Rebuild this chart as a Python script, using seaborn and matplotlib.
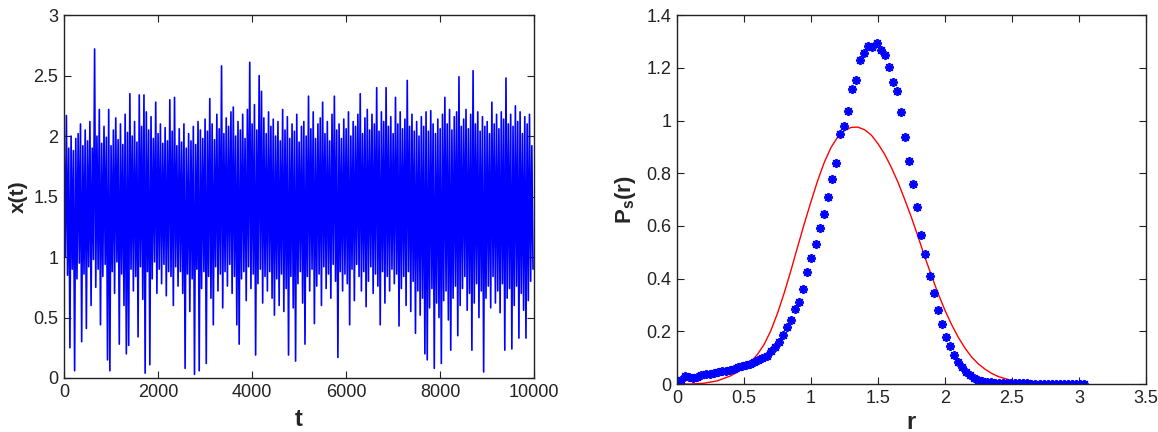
import numpy as np
import pandas as pd
import seaborn as sns
import matplotlib
matplotlib.use('Agg')
import matplotlib.pyplot as plt
from matplotlib.ticker import FuncFormatter

sns.set_style('ticks')
plt.rcParams['font.family'] = ['Liberation Sans', 'DejaVu Sans']
plt.rcParams['mathtext.fontset'] = 'custom'
plt.rcParams['mathtext.rm'] = 'Liberation Sans'
plt.rcParams['mathtext.bf'] = 'Liberation Sans:bold'
plt.rcParams['mathtext.it'] = 'Liberation Sans:italic'

# ---- left panel: x(t), upper / lower excursions per 50-step window ----
x_hi = [1.95, 2.17, 1.90, 2.00, 1.88, 1.98, 2.02, 2.10, 1.92, 2.05,
        1.96, 2.12, 1.90, 2.72, 2.00, 2.22, 1.94, 2.08, 1.99, 2.22,
        1.92, 2.05, 2.15, 1.97, 2.10, 1.93, 2.18, 2.03, 2.35, 2.00,
        2.12, 1.95, 2.34, 2.08, 2.34, 2.20, 2.05, 2.16, 1.98, 2.28,
        2.02, 2.10, 1.94, 2.07, 1.96, 2.30, 2.04, 2.32, 1.92, 2.06,
        1.95, 2.10, 1.90, 2.02, 1.96, 2.08, 1.93, 2.12, 2.05, 1.98,
        2.14, 2.04, 2.31, 2.10, 1.97, 2.18, 2.06, 2.58, 2.02, 2.15,
        2.08, 2.20, 2.24, 2.00, 2.12, 2.05, 2.18, 1.98, 2.22, 2.61,
        2.10, 2.26, 2.05, 2.50, 2.37, 2.15, 2.02, 2.20, 2.08, 2.14,
        2.00, 2.12, 1.96, 2.22, 2.05, 2.16, 1.98, 2.10, 2.04, 2.18,
        1.95, 2.08, 2.12, 2.00, 2.33, 2.06, 2.20, 1.98, 2.10, 2.15,
        2.28, 2.02, 2.12, 1.96, 2.18, 2.33, 2.05, 2.10, 1.98, 2.14,
        2.06, 2.20, 2.00, 2.12, 2.08, 2.18, 2.35, 2.02, 2.15, 2.22,
        2.05, 2.18, 2.10, 2.40, 2.04, 2.20, 2.12, 2.40, 2.08, 2.16,
        2.02, 2.32, 2.10, 2.20, 2.06, 2.14, 2.46, 2.08, 2.18, 2.04,
        2.12, 2.00, 2.16, 2.08, 2.20, 2.04, 2.21, 2.10, 2.02, 2.14,
        2.06, 2.18, 2.32, 2.10, 2.22, 2.05, 2.16, 2.20, 2.49, 2.08,
        2.14, 2.22, 2.06, 2.18, 2.54, 2.10, 2.20, 2.04, 2.16, 2.08,
        2.12, 2.02, 2.28, 2.10, 2.18, 2.06, 2.20, 2.14, 2.48, 2.10,
        2.18, 2.08, 2.25, 2.12, 2.20, 2.02, 2.16, 2.10, 2.18, 1.92]

x_lo = [1.00, 0.85, 0.25, 0.90, 0.06, 0.82, 0.95, 0.30, 0.86, 0.41,
        0.92, 0.60, 0.98, 0.75, 0.90, 0.44, 0.84, 0.94, 0.15, 0.06,
        0.88, 0.70, 0.96, 0.28, 0.86, 0.60, 0.20, 0.27, 0.90, 0.72,
        0.84, 0.34, 0.92, 0.65, 0.04, 0.88, 0.11, 0.82, 0.96, 0.70,
        0.90, 0.78, 0.94, 0.68, 0.88, 0.84, 0.60, 0.92, 0.76, 0.88,
        0.70, 0.08, 0.86, 0.55, 0.82, 0.03, 0.90, 0.06, 0.74, 0.88,
        0.12, 0.84, 0.66, 0.44, 0.92, 0.72, 0.86, 0.58, 0.88, 0.76,
        0.94, 0.70, 0.84, 0.44, 0.28, 0.82, 0.88, 0.64, 0.92, 0.74,
        0.86, 0.19, 0.78, 0.90, 0.62, 0.84, 0.72, 0.88, 0.66, 0.52,
        0.82, 0.60, 0.86, 0.55, 0.74, 0.19, 0.84, 0.58, 0.14, 0.78,
        0.88, 0.62, 0.28, 0.84, 0.72, 0.90, 0.45, 0.76, 0.86, 0.60,
        0.92, 0.74, 0.86, 0.66, 0.94, 0.80, 0.17, 0.88, 0.72, 0.86,
        0.78, 0.44, 0.90, 0.64, 0.94, 0.84, 0.72, 0.88, 0.59, 0.80,
        0.92, 0.70, 0.86, 0.76, 0.44, 0.88, 0.62, 0.84, 0.72, 0.90,
        0.78, 0.86, 0.43, 0.74, 0.84, 0.60, 0.88, 0.55, 0.80, 0.37,
        0.72, 0.52, 0.66, 0.20, 0.15, 0.58, 0.74, 0.08, 0.62, 0.50,
        0.12, 0.64, 0.72, 0.48, 0.23, 0.66, 0.76, 0.35, 0.60, 0.74,
        0.84, 0.56, 0.70, 0.23, 0.62, 0.78, 0.50, 0.72, 0.05, 0.66,
        0.76, 0.58, 0.84, 0.62, 0.72, 0.54, 0.78, 0.23, 0.66, 0.74,
        0.24, 0.60, 0.76, 0.33, 0.70, 0.56, 0.33, 0.64, 0.80, 0.90]

t_hi = np.arange(0, 10000, 50)
t_lo = t_hi + 25

# ---- right panel: histogram points and analytic density ----
r_pts = [0.000, 0.030, 0.061, 0.091, 0.122, 0.152, 0.182, 0.213, 0.243, 0.274,
         0.304, 0.334, 0.365, 0.395, 0.426, 0.456, 0.486, 0.517, 0.547, 0.578,
         0.608, 0.638, 0.669, 0.699, 0.730, 0.760, 0.790, 0.821, 0.851, 0.882,
         0.912, 0.942, 0.973, 1.003, 1.034, 1.064, 1.094, 1.125, 1.155, 1.186,
         1.216, 1.246, 1.277, 1.307, 1.338, 1.368, 1.398, 1.429, 1.459, 1.490,
         1.520, 1.550, 1.581, 1.611, 1.642, 1.672, 1.702, 1.733, 1.763, 1.794,
         1.824, 1.854, 1.885, 1.915, 1.946, 1.976, 2.006, 2.037, 2.067, 2.098,
         2.128, 2.158, 2.189, 2.219, 2.250, 2.280, 2.310, 2.341, 2.371, 2.402,
         2.432, 2.462, 2.493, 2.523, 2.554, 2.584, 2.614, 2.645, 2.675, 2.706,
         2.736, 2.766, 2.797, 2.827, 2.858, 2.888, 2.918, 2.949, 2.979, 3.010,
         3.040]
p_pts = [0.000, 0.015, 0.030, 0.028, 0.022, 0.027, 0.033, 0.038, 0.040, 0.043,
         0.046, 0.048, 0.050, 0.054, 0.058, 0.063, 0.068, 0.072, 0.077, 0.082,
         0.090, 0.097, 0.108, 0.124, 0.140, 0.160, 0.185, 0.215, 0.243, 0.284,
         0.310, 0.362, 0.426, 0.479, 0.533, 0.593, 0.647, 0.710, 0.780, 0.837,
         0.947, 0.981, 1.038, 1.120, 1.155, 1.230, 1.258, 1.284, 1.280, 1.295,
         1.267, 1.248, 1.204, 1.145, 1.111, 1.032, 0.937, 0.847, 0.759, 0.671,
         0.566, 0.494, 0.410, 0.344, 0.281, 0.227, 0.178, 0.143, 0.111, 0.085,
         0.064, 0.046, 0.033, 0.023, 0.016, 0.011, 0.008, 0.006, 0.005, 0.005,
         0.004, 0.004, 0.004, 0.003, 0.003, 0.003, 0.003, 0.002, 0.002, 0.002,
         0.002, 0.002, 0.002, 0.002, 0.001, 0.001, 0.001, 0.001, 0.001, 0.001,
         0.001]

r_fit = [0.00, 0.10, 0.20, 0.30, 0.40, 0.45, 0.50, 0.55, 0.60, 0.65,
         0.70, 0.75, 0.80, 0.85, 0.90, 0.95, 1.00, 1.05, 1.10, 1.15,
         1.20, 1.25, 1.30, 1.35, 1.40, 1.45, 1.50, 1.55, 1.60, 1.65,
         1.70, 1.75, 1.80, 1.85, 1.90, 1.95, 2.00, 2.05, 2.10, 2.15,
         2.20, 2.25, 2.30, 2.35, 2.40, 2.50, 2.60, 2.70, 2.80, 3.00]
p_fit = [0.000, 0.000, 0.003, 0.012, 0.031, 0.045, 0.063, 0.084, 0.112, 0.150,
         0.202, 0.268, 0.345, 0.430, 0.520, 0.608, 0.692, 0.772, 0.842, 0.898,
         0.938, 0.962, 0.974, 0.975, 0.965, 0.945, 0.912, 0.872, 0.822, 0.765,
         0.700, 0.632, 0.558, 0.482, 0.410, 0.342, 0.280, 0.225, 0.177, 0.136,
         0.102, 0.076, 0.056, 0.040, 0.028, 0.013, 0.006, 0.003, 0.001, 0.000]

t_all = np.empty(2 * len(t_hi))
x_all = np.empty(2 * len(t_hi))
t_all[0::2], t_all[1::2] = t_hi, t_lo
x_all[0::2], x_all[1::2] = x_hi, x_lo
series = pd.DataFrame({'t': t_all, 'x': x_all})

fig = plt.figure(figsize=(11.58, 4.32), dpi=100)
ax1 = fig.add_axes([0.0553, 0.125, 0.406, 0.840])
ax2 = fig.add_axes([0.5846, 0.111, 0.405, 0.854])

sns.lineplot(data=series, x='t', y='x', ax=ax1, color='#0000ff', lw=1.2,
             estimator=None, sort=False)
ax1.set_xlim(0, 10000)
ax1.set_ylim(0, 3)
ax1.set_xticks(range(0, 10001, 2000))
ax1.set_yticks([0, 0.5, 1, 1.5, 2, 2.5, 3])
ax1.set_xlabel('t', fontsize=17, fontweight='bold', labelpad=5)
ax1.set_ylabel('x(t)', fontsize=15, fontweight='bold', labelpad=4)

sns.lineplot(x=r_fit, y=p_fit, ax=ax2, color='#ff0000', lw=1.0, estimator=None)
sns.lineplot(x=r_pts, y=p_pts, ax=ax2, color='#0000ff', linestyle='',
             marker=(8, 2, 0), markersize=6.5, mec='#0000ff', mew=1.3,
             estimator=None)
ax2.set_xlim(0, 3.5)
ax2.set_ylim(0, 1.4)
ax2.set_xticks([0, 0.5, 1, 1.5, 2, 2.5, 3, 3.5])
ax2.set_yticks([0, 0.2, 0.4, 0.6, 0.8, 1, 1.2, 1.4])
ax2.set_xlabel('r', fontsize=17, fontweight='bold', labelpad=3)
ax2.set_ylabel(r'$\mathbf{P_s(r)}$', fontsize=16, labelpad=6)

fmt = FuncFormatter(lambda v, p: '%g' % v)
for ax in (ax1, ax2):
    ax.xaxis.set_major_formatter(fmt)
    ax.yaxis.set_major_formatter(fmt)
    ax.tick_params(direction='in', top=True, right=True, length=5,
                   width=0.8, labelsize=13, colors='#222222', pad=4)
    for s in ax.spines.values():
        s.set_visible(True)
        s.set_linewidth(1.0)
        s.set_color('#222222')

fig.savefig('out.png', dpi=100)
